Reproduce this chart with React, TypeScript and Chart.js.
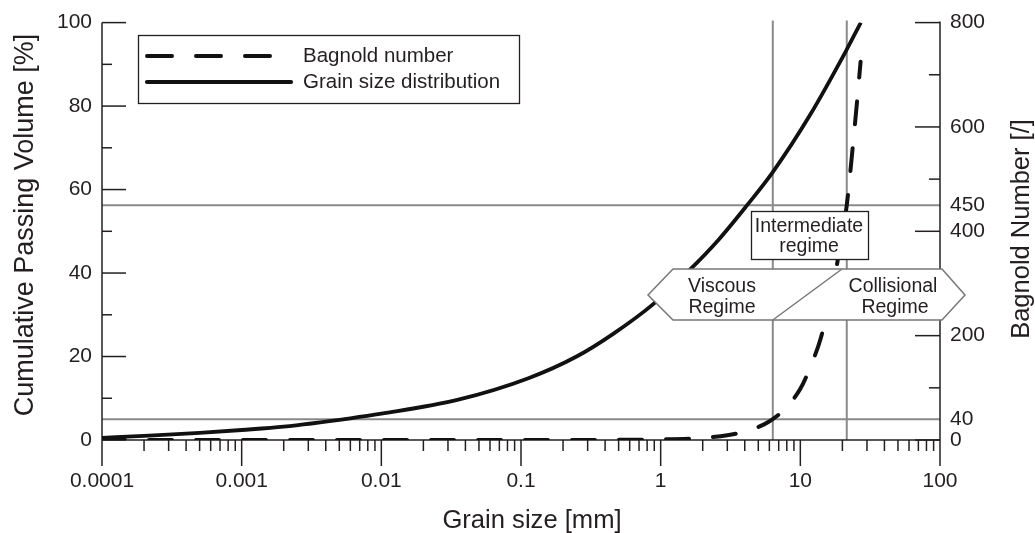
import React, { useEffect, useRef } from 'react';
import { Chart, registerables } from 'chart.js';

Chart.register(...registerables);

// ---- data ----
const gsdSizes = [0.0001, 0.0002, 0.0005, 0.001, 0.002, 0.006, 0.01, 0.035, 0.113, 0.25, 0.46, 0.88, 1.62, 2.6, 4.12, 6.35, 11.7, 21.3, 27.1];
const gsdPassing = [0.5, 1.0, 1.7, 2.4, 3.2, 5.2, 6.3, 9.6, 14.8, 20.0, 25.5, 32.5, 40.8, 48.0, 56.1, 64.2, 77.8, 93.3, 100];

const bagnoldSizes = [0.0001, 0.001, 0.01, 0.1, 0.5, 1, 2, 3, 4.35, 5.5, 6.35, 7.5, 10, 12, 14, 17, 19.5, 21.5, 23.5, 25.5, 27];
const bagnoldValues = [0, 0, 0, 0, 0.3, 1, 4, 9, 19, 30, 40, 56, 98, 145, 195, 290, 380, 450, 550, 650, 725];

const xTickValues = [0.0001, 0.001, 0.01, 0.1, 1, 10, 100];
const xTickLabels = ['0.0001', '0.001', '0.01', '0.1', '1', '10', '100'];
const leftTickValues = [0, 20, 40, 60, 80, 100];
const rightTickValues = [0, 40, 200, 400, 450, 600, 800];

const regimeSizeLimits = [6.35, 21.5]; // mm
const bagnoldLimits = [40, 450];

const seriesLabels = ['Bagnold number', 'Grain size distribution'];
const axisTitles = {
  x: 'Grain size [mm]',
  left: 'Cumulative Passing Volume [%]',
  right: 'Bagnold Number [/]',
};
const regimeLabels = {
  intermediate: ['Intermediate', 'regime'],
  viscous: ['Viscous', 'Regime'],
  collisional: ['Collisional', 'Regime'],
};

// ---- styles ----
const FONT = '"Liberation Sans", Arial, Helvetica, sans-serif';
const INK = '#231f20';
const GREY = '#8a8a8a';

function seg(ctx: CanvasRenderingContext2D, x1: number, y1: number, x2: number, y2: number) {
  ctx.beginPath();
  ctx.moveTo(x1, y1);
  ctx.lineTo(x2, y2);
  ctx.stroke();
}

const decorPlugin = {
  id: 'decor',
  beforeDatasetsDraw(chart: any) {
    const { ctx, chartArea: a, scales } = chart;
    const xs = scales.x;
    const yr = scales.y1;
    ctx.save();
    // reference lines
    ctx.strokeStyle = GREY;
    ctx.lineWidth = 2;
    for (const v of bagnoldLimits) {
      const py = yr.getPixelForValue(v);
      seg(ctx, a.left, py, a.right, py);
    }
    for (const v of regimeSizeLimits) {
      const px = xs.getPixelForValue(v);
      seg(ctx, px, a.top - 2, px, a.bottom);
    }
    // axes lines
    ctx.strokeStyle = INK;
    ctx.lineWidth = 1.5;
    seg(ctx, a.left, a.top, a.left, a.bottom);
    seg(ctx, a.right, a.top - 1, a.right, a.bottom);
    seg(ctx, a.left, a.bottom, a.right, a.bottom);
    // x ticks (outward)
    for (let e = -4; e <= 2; e++) {
      const major = Math.pow(10, e);
      const px = xs.getPixelForValue(major);
      seg(ctx, px, a.bottom, px, a.bottom + 26);
      if (e < 2) {
        for (let m = 2; m <= 9; m++) {
          const p = xs.getPixelForValue(m * major);
          seg(ctx, p, a.bottom, p, a.bottom + 11);
        }
      }
    }
    // left ticks (inward)
    const yl = scales.y;
    for (let v = 0; v <= 100; v += 10) {
      const py = yl.getPixelForValue(v);
      seg(ctx, a.left, py, a.left + (v % 20 === 0 ? 24 : 10), py);
    }
    // right ticks (inward)
    for (let v = 0; v <= 800; v += 100) {
      const py = yr.getPixelForValue(v);
      seg(ctx, a.right, py, a.right - (v % 200 === 0 ? 25 : 11), py);
    }
    ctx.restore();
  },
  afterDatasetsDraw(chart: any) {
    const { ctx, scales } = chart;
    const xs = scales.x;
    ctx.save();

    // Intermediate regime box
    ctx.fillStyle = '#fff';
    ctx.fillRect(751, 211, 117, 48);
    ctx.strokeStyle = INK;
    ctx.lineWidth = 1.3;
    ctx.strokeRect(751.5, 211.5, 117, 48);
    ctx.fillStyle = INK;
    ctx.font = `19.5px ${FONT}`;
    ctx.textAlign = 'center';
    ctx.textBaseline = 'alphabetic';
    ctx.fillText(regimeLabels.intermediate[0], 809, 231.5);
    ctx.fillText(regimeLabels.intermediate[1], 809, 251.5);

    // Viscous / Collisional arrow shape
    const xDiag = xs.getPixelForValue(regimeSizeLimits[0]);
    ctx.beginPath();
    ctx.moveTo(648, 295);
    ctx.lineTo(673, 269);
    ctx.lineTo(942, 269);
    ctx.lineTo(965, 295);
    ctx.lineTo(942, 320);
    ctx.lineTo(673, 320);
    ctx.closePath();
    ctx.fillStyle = '#fff';
    ctx.fill();
    ctx.strokeStyle = '#777';
    ctx.lineWidth = 1.5;
    ctx.stroke();
    seg(ctx, xDiag, 320, 842, 269);
    ctx.fillStyle = INK;
    ctx.fillText(regimeLabels.viscous[0], 722, 291.5);
    ctx.fillText(regimeLabels.viscous[1], 722, 313);
    ctx.fillText(regimeLabels.collisional[0], 893, 291.5);
    ctx.fillText(regimeLabels.collisional[1], 895, 313);

    // Legend
    ctx.fillStyle = '#fff';
    ctx.fillRect(138, 35, 381, 68);
    ctx.strokeStyle = INK;
    ctx.lineWidth = 1.3;
    ctx.strokeRect(138.5, 35.5, 381, 68);
    ctx.strokeStyle = '#111';
    ctx.lineCap = 'round';
    ctx.lineWidth = 4;
    ctx.setLineDash([25, 24]);
    seg(ctx, 147, 56, 271, 56);
    ctx.setLineDash([]);
    ctx.lineWidth = 4.2;
    seg(ctx, 147, 82, 291, 82);
    ctx.lineCap = 'butt';
    ctx.fillStyle = INK;
    ctx.font = `20.5px ${FONT}`;
    ctx.textAlign = 'left';
    ctx.fillText(seriesLabels[0], 303, 62);
    ctx.fillText(seriesLabels[1], 303, 87.5);

    // Axis titles
    ctx.textAlign = 'center';
    ctx.font = `25.6px ${FONT}`;
    ctx.fillText(axisTitles.x, 532, 528);
    ctx.save();
    ctx.font = `27px ${FONT}`;
    ctx.translate(33, 225);
    ctx.rotate(-Math.PI / 2);
    ctx.fillText(axisTitles.left, 0, 0);
    ctx.restore();
    ctx.save();
    ctx.font = `25.5px ${FONT}`;
    ctx.translate(1029, 229);
    ctx.rotate(-Math.PI / 2);
    ctx.fillText(axisTitles.right, 0, 0);
    ctx.restore();

    ctx.restore();
  },
};

export default function App() {
  const ref = useRef<HTMLCanvasElement>(null);
  useEffect(() => {
    const tickFont = { family: FONT, size: 21 };
    const chart = new Chart(ref.current as HTMLCanvasElement, {
      type: 'line',
      data: {
        datasets: [
          {
            label: seriesLabels[0],
            data: bagnoldSizes.map((s, i) => ({ x: s, y: bagnoldValues[i] })),
            yAxisID: 'y1',
            borderColor: '#111',
            borderWidth: 4,
            borderDash: [23, 24],
            borderCapStyle: 'round',
            pointRadius: 0,
            cubicInterpolationMode: 'monotone',
            fill: false,
          },
          {
            label: seriesLabels[1],
            data: gsdSizes.map((s, i) => ({ x: s, y: gsdPassing[i] })),
            yAxisID: 'y',
            borderColor: '#111',
            borderWidth: 3.8,
            pointRadius: 0,
            cubicInterpolationMode: 'monotone',
            fill: false,
          },
        ],
      },
      options: {
        responsive: false,
        maintainAspectRatio: false,
        animation: false,
        events: [],
        layout: { padding: { top: 21, left: 0, right: 0, bottom: 0 } },
        plugins: { legend: { display: false }, tooltip: { enabled: false } },
        scales: {
          x: {
            type: 'logarithmic',
            position: 'bottom',
            min: 0.0001,
            max: 100,
            grid: { display: false, drawTicks: false },
            border: { display: false },
            afterBuildTicks: (s: any) => {
              s.ticks = xTickValues.map((v) => ({ value: v }));
            },
            afterFit: (s: any) => {
              s.height = 93;
            },
            ticks: {
              autoSkip: false,
              maxRotation: 0,
              minRotation: 0,
              padding: 29,
              color: INK,
              font: tickFont,
              callback: (_v: any, i: number) => xTickLabels[i],
            },
          },
          y: {
            type: 'linear',
            position: 'left',
            min: 0,
            max: 100,
            grid: { display: false, drawTicks: false },
            border: { display: false },
            afterBuildTicks: (s: any) => {
              s.ticks = leftTickValues.map((v) => ({ value: v }));
            },
            afterFit: (s: any) => {
              s.width = 102;
            },
            ticks: { autoSkip: false, padding: 10, color: INK, font: tickFont, callback: (v: any) => String(v) },
          },
          y1: {
            type: 'linear',
            position: 'right',
            min: 0,
            max: 800,
            grid: { display: false, drawTicks: false },
            border: { display: false },
            afterBuildTicks: (s: any) => {
              s.ticks = rightTickValues.map((v) => ({ value: v }));
            },
            afterFit: (s: any) => {
              s.width = 95;
            },
            ticks: { autoSkip: false, padding: 10, color: INK, font: tickFont, callback: (v: any) => String(v) },
          },
        },
      } as any,
      plugins: [decorPlugin],
    });
    return () => chart.destroy();
  }, []);
  return (
    <div style={{ position: 'absolute', left: 0, top: 0, width: 1035, height: 533, background: '#fff' }}>
      <canvas ref={ref} width={1035} height={533} style={{ display: 'block', width: 1035, height: 533 }} />
    </div>
  );
}
